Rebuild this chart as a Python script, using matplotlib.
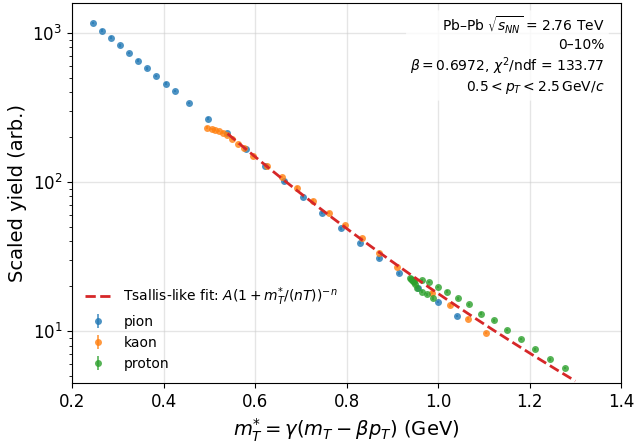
import numpy as np
import matplotlib
matplotlib.use("Agg")
import matplotlib.pyplot as plt

# ---- data ----
pion_x = [0.246, 0.2656, 0.2846, 0.3043, 0.3246, 0.3443, 0.364, 0.3843, 0.4049, 0.4252,
          0.455, 0.4974, 0.5385, 0.5809, 0.6214, 0.6636, 0.7051, 0.7467, 0.7882, 0.8304,
          0.8719, 0.9144, 0.9566, 0.9995, 1.0410]
pion_y = [1161, 1031, 926, 823, 731, 649, 577, 513, 455, 406,
          338, 265, 212, 165, 128, 101, 79.2, 62.2, 48.9, 38.9,
          30.8, 24.4, 19.6, 15.7, 12.6]

kaon_x = [0.4952, 0.5061, 0.5134, 0.5208, 0.5295, 0.5389, 0.5505, 0.5637, 0.5755, 0.5965,
          0.6271, 0.6586, 0.6914, 0.7264, 0.7613, 0.797, 0.8342, 0.872, 0.9092, 0.948,
          0.9861, 1.0251, 1.0644, 1.1038]
kaon_y = [231, 226, 223, 219, 214, 206, 195, 180, 170, 150,
          128, 108, 91.4, 74.8, 62.2, 51.2, 41.9, 33.6, 27.0, 22.0,
          18.1, 14.9, 12.15, 9.71]

proton_x = [0.938, 0.9402, 0.9424, 0.9446, 0.9468, 0.95, 0.9538, 0.9647, 0.9757, 0.99,
            0.9647, 0.9813, 0.9997, 1.02, 1.0441, 1.0675, 1.0944, 1.1217, 1.1512, 1.1812,
            1.2124, 1.2446, 1.2774]
proton_y = [22.7, 22.3, 22.0, 21.7, 21.3, 20.7, 19.5, 18.4, 17.6, 16.6,
            22.0, 21.4, 19.8, 18.4, 16.6, 15.1, 13.1, 11.8, 10.2, 8.85,
            7.55, 6.47, 5.66]

rel_err = 0.02

# Tsallis-like fit parameters
fit_A = 10100.0
fit_n = 10.8
fit_T = 0.116
fit_range = (0.54, 1.30)

x_ticks = [0.2, 0.4, 0.6, 0.8, 1.0, 1.2, 1.4]

# ---- plot ----
fig = plt.figure(figsize=(6.34, 4.43), dpi=100)
ax = fig.add_axes([0.1136, 0.1354, 0.866, 0.8578])

xf = np.linspace(fit_range[0], fit_range[1], 200)
yf = fit_A * (1 + xf / (fit_n * fit_T)) ** (-fit_n)
ax.plot(xf, yf, '--', color='#d62728', lw=2,
        label=r'Tsallis-like fit: $A(1+m_T^{*}/(nT))^{-n}$', zorder=3)

for xs, ys, c, lab in [(pion_x, pion_y, '#1f77b4', 'pion'),
                       (kaon_x, kaon_y, '#ff7f0e', 'kaon'),
                       (proton_x, proton_y, '#2ca02c', 'proton')]:
    ys = np.array(ys)
    ax.errorbar(xs, ys, yerr=rel_err * ys, fmt='o', ms=5, color=c, alpha=0.8,
                mew=0, elinewidth=1.2, label=lab, zorder=2)

ax.set_yscale('log')
ax.set_xlim(0.2, 1.4)
ax.set_ylim(4.49, 1581)
ax.set_xticks(x_ticks)
ax.tick_params(axis='both', which='major', labelsize=12)
ax.grid(True, which='major', color='#cccccc', alpha=0.5, lw=1)
ax.set_axisbelow(True)

ax.set_xlabel(r'$m_T^{*} = \gamma(m_T - \beta p_T)$ (GeV)', fontsize=14)
ax.set_ylabel('Scaled yield (arb.)', fontsize=14)

ax.text(0.97, 0.97,
        'Pb–Pb $\\sqrt{s_{NN}}$ = 2.76 TeV\n0–10%\n'
        '$\\beta = 0.6972$, $\\chi^2$/ndf = 133.77\n'
        '$0.5 < p_T < 2.5\\,$GeV/$c$',
        transform=ax.transAxes, ha='right', va='top', fontsize=10,
        bbox=dict(boxstyle='round', facecolor='white', edgecolor='none', alpha=0.8))

ax.legend(loc='lower left', frameon=False, fontsize=10)

fig.savefig('out.png', dpi=100)
